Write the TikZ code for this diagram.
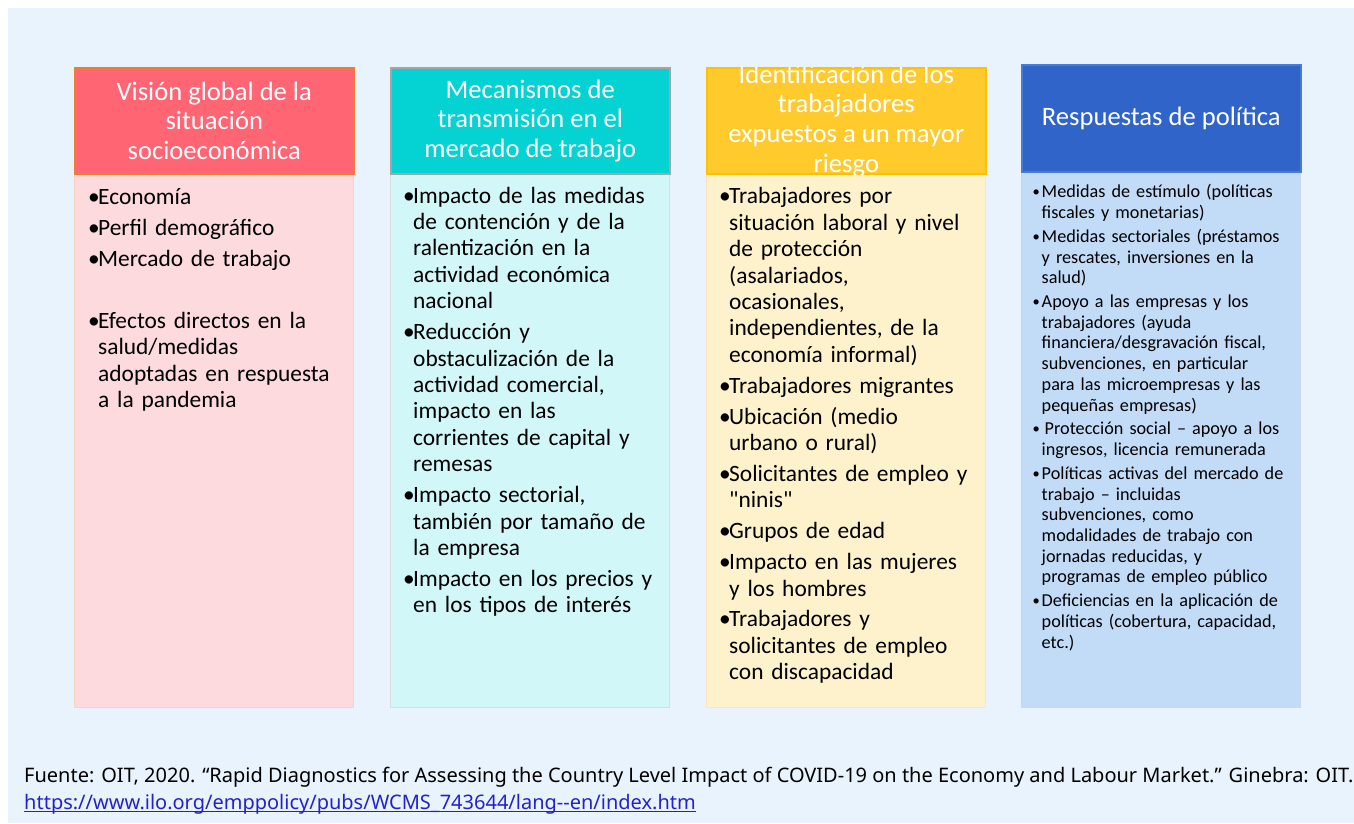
\documentclass[tikz,border=0pt]{standalone}
\usepackage{fontspec}
\usepackage{graphicx}
\setmainfont{Carlito}
\newfontfamily\plainfont{Carlito}[Ligatures=TeXOff]
\newfontfamily\notosans{Noto Sans}
\definecolor{bgc}{HTML}{E9F3FD}
\definecolor{hAf}{HTML}{FF6573}\definecolor{hAd}{HTML}{ED7D31}
\definecolor{bAf}{HTML}{FCDADD}\definecolor{bAd}{HTML}{F8D3C0}
\definecolor{hBf}{HTML}{05D2D3}\definecolor{hBd}{HTML}{A5A5A5}
\definecolor{bBf}{HTML}{D2F7F9}\definecolor{bBd}{HTML}{D9DEE0}
\definecolor{hCf}{HTML}{FFCA2C}\definecolor{hCd}{HTML}{FFC000}
\definecolor{bCf}{HTML}{FEF2CD}\definecolor{bCd}{HTML}{FCE4BE}
\definecolor{hDf}{HTML}{3164C8}\definecolor{hDd}{HTML}{4A7BD3}
\definecolor{bDf}{HTML}{C2DCF8}\definecolor{bDd}{HTML}{C9D6EC}
\definecolor{linkc}{HTML}{2222CC}
\newcommand{\itm}[1]{\par\hangindent=10pt\hangafter=1\noindent\makebox[10pt][l]{•}#1}
\newcommand{\itmb}[1]{\par\hangindent=10.5pt\hangafter=1\noindent\makebox[10.5pt][l]{\kern1.5pt\raisebox{0.06em}{\scalebox{0.8}{•}}}#1}
\newcommand{\ulink}[1]{\setbox0\hbox{#1}\rlap{\rule[-2.6pt]{\wd0}{1.1pt}}\box0}
\tikzset{
  hdrbox/.style={draw, line width=1.6pt, anchor=north west, inner sep=0pt, minimum width=279pt},
  bodybox/.style={draw, line width=1pt, anchor=north west, inner sep=0pt, minimum width=279pt},
  hdrtxt/.style={text=white, align=center, inner sep=0pt, font=\fontsize{26.6pt}{29.7pt}\selectfont},
  bodytxt/.style={anchor=base west, inner sep=0pt, text width=264pt, font=\fontsize{23.4pt}{26.4pt}\selectfont},
  smalltxt/.style={anchor=base west, inner sep=0pt, text width=264pt, font=\fontsize{18.2pt}{20.7pt}\selectfont},
  foot/.style={anchor=base west, inner sep=0pt, font=\notosans\fontsize{20pt}{24pt}\selectfont}
}
\begin{document}
\begin{tikzpicture}[x=1pt,y=-1pt]
\useasboundingbox (0,0) rectangle (1354,823);
\fill[bgc] (8,8) rectangle (1354,823);
% column 1
\node[bodybox, fill=bAf, draw=bAd, minimum height=534pt] (b1) at (74,173) {};
\node[hdrbox, fill=hAf, draw=hAd, minimum height=106pt] (h1) at (74,67) {};
\node[hdrtxt] (t1) at (h1.center) {Visión global de la\\situación\\socioeconómica};
\node[bodytxt] (l1) at (88,173.5) {\raggedright\parskip=4.6pt
\itm{Economía}
\itm{Perfil demográfico}
\itm{Mercado de trabajo}
\par\noindent\mbox{}
\itm{Efectos directos en la\newline salud/medidas\newline adoptadas en respuesta\newline a la pandemia}\par};
% column 2
\node[bodybox, fill=bBf, draw=bBd, minimum height=534pt] (b2) at (390,173) {};
\node[hdrbox, fill=hBf, draw=hBd, minimum height=106pt] (h2) at (390,67) {};
\node[hdrtxt] (t2) at (h2.center) {Mecanismos de\\transmisión en el\\mercado de trabajo};
\node[bodytxt] (l2) at (403,172) {\raggedright\parskip=4.6pt
\itm{Impacto de las medidas\newline de contención y de la\newline ralentización en la\newline actividad económica\newline nacional}
\itm{Reducción y\newline obstaculización de la\newline actividad comercial,\newline impacto en las\newline corrientes de capital y\newline remesas}
\itm{Impacto sectorial,\newline también por tamaño de\newline la empresa}
\itm{Impacto en los precios y\newline en los tipos de interés}\par};
% column 3
\node[bodybox, fill=bCf, draw=bCd, minimum height=534pt] (b3) at (706,173) {};
\node[hdrbox, fill=hCf, draw=hCd, minimum height=106pt] (h3) at (706,67) {};
\begin{scope}
\clip (h3.north west) rectangle (h3.south east);
\node[hdrtxt] (t3) at (h3.center) {Identificación de los\\trabajadores\\expuestos a un mayor\\riesgo};
\end{scope}
\node[bodytxt] (l3) at (719,173) {\raggedright\parskip=4.5pt
\itm{Trabajadores por\newline situación laboral y nivel\newline de protección\newline (asalariados,\newline ocasionales,\newline independientes, de la\newline economía informal)}
\itm{Trabajadores migrantes}
\itm{Ubicación (medio\newline urbano o rural)}
\itm{Solicitantes de empleo y\newline {\plainfont "ninis"}}
\itm{Grupos de edad}
\itm{Impacto en las mujeres\newline y los hombres}
\itm{Trabajadores y\newline solicitantes de empleo\newline con discapacidad}\par};
% column 4
\node[bodybox, fill=bDf, draw=bDd, minimum height=536pt] (b4) at (1021,171) {};
\node[hdrbox, fill=hDf, draw=hDd, minimum height=107pt] (h4) at (1021,64) {};
\node[hdrtxt] (t4) at (h4.center) {Respuestas de política};
\node[smalltxt] (l4) at (1031,174) {\raggedright\parskip=3.1pt
\itmb{Medidas de estímulo (políticas\newline fiscales y monetarias)}
\itmb{Medidas sectoriales (préstamos\newline y rescates, inversiones en la\newline salud)}
\itmb{Apoyo a las empresas y los\newline trabajadores (ayuda\newline financiera/desgravación fiscal,\newline subvenciones, en particular\newline para las microempresas y las\newline pequeñas empresas)}
\itmb{\kern3pt Protección social – apoyo a los\newline ingresos, licencia remunerada}
\itmb{Políticas activas del mercado de\newline trabajo – incluidas\newline subvenciones, como\newline modalidades de trabajo con\newline jornadas reducidas, y\newline programas de empleo público}
\itmb{Deficiencias en la aplicación de\newline políticas (cobertura, capacidad,\newline etc.)}\par};
% footer
\node[foot] (f1) at (24,782) {Fuente: OIT, 2020. “Rapid Diagnostics for Assessing the Country Level Impact of COVID-19 on the Economy and Labour Market.” Ginebra: OIT.};
\node[foot, text=linkc] (f2) at (24,809) {\ulink{https://www.ilo.org/emppolicy/pubs/WCMS\_743644/lang-{}-en/index.htm}};
\end{tikzpicture}
\end{document}
